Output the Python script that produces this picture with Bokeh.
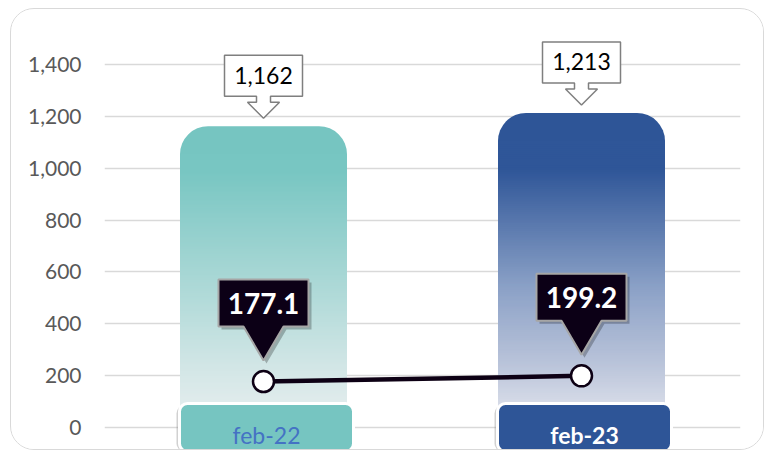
import numpy as np
from bokeh.plotting import figure
from bokeh.models import Range1d, NumeralTickFormatter, FixedTicker, ColumnDataSource
from bokeh.core.properties import value
from bokeh.embed import file_html
from bokeh.resources import INLINE

# ---------------- data ----------------
categories = ["feb-22", "feb-23"]
bar_values = [1162, 1213]
bar_labels = ["1,162", "1,213"]
line_values = [177.1, 199.2]
line_labels = ["177.1", "199.2"]
y_ticks = [0, 200, 400, 600, 800, 1000, 1200, 1400]

# ---------------- geometry / style ----------------
W, H = 754, 442          # content size (plus 1px CSS border each side)
ML, MR = 93, 25
FW = W - ML - MR
ZERO_PX = 418            # px from frame top where value 0 sits
TOP_PX = 55              # px from frame top where 1400 sits
KY = (ZERO_PX - TOP_PX) / 1400.0
Y0 = -(H - ZERO_PX) / KY
Y1 = ZERO_PX / KY
KX = FW / 2.0


def dy(px):
    return px / KY


def dx(px):
    return px / KX


def hex2rgb(h):
    h = h.lstrip("#")
    return np.array([int(h[i:i + 2], 16) for i in (0, 2, 4)], dtype=float)


def grad(stops, f):
    fs = [s[0] for s in stops]
    cols = [hex2rgb(s[1]) for s in stops]
    f = min(max(f, 0.0), 1.0)
    for k in range(len(fs) - 1):
        if fs[k] <= f <= fs[k + 1]:
            t = (f - fs[k]) / (fs[k + 1] - fs[k])
            c = cols[k] * (1 - t) + cols[k + 1] * t
            return "#%02x%02x%02x" % tuple(int(round(v)) for v in c)
    c = cols[-1]
    return "#%02x%02x%02x" % tuple(int(round(v)) for v in c)


bar_stops = [
    [(0.0, "#76c5c1"), (0.15, "#78c6c2"), (0.5, "#a8d7d5"), (0.8, "#d2e6e6"), (1.0, "#e9eff0")],
    [(0.0, "#2e5597"), (0.18, "#2f5698"), (0.55, "#8aa0c6"), (0.8, "#bac4da"), (1.0, "#e6e8ef")],
]
box_colors = ["#76c5c1", "#2e5597"]
box_text_colors = ["#4472c4", "#ffffff"]
box_text_styles = ["normal", "bold"]

xs = [i + 0.5 for i in range(len(categories))]
BW = dx(167)
RADIUS = 28

p = figure(width=W, height=H, x_range=Range1d(0, 2), y_range=Range1d(Y0, Y1),
           output_backend="svg", toolbar_location=None, x_axis_location=None,
           min_border=0, min_border_left=ML, min_border_right=MR,
           min_border_top=0, min_border_bottom=0)
p.outline_line_color = None
p.background_fill_color = "white"
p.border_fill_color = "white"
p.styles = {"border": "1px solid #d9d9d9", "border-radius": "24px", "overflow": "hidden",
            "margin-left": "10px", "margin-top": "8px"}

p.xgrid.visible = False
p.ygrid.grid_line_color = "#d9d9d9"
p.ygrid.grid_line_width = 1.5
p.yaxis.ticker = FixedTicker(ticks=y_ticks)
p.yaxis.formatter = NumeralTickFormatter(format="0,0")
p.yaxis.axis_line_color = None
p.yaxis.major_tick_line_color = None
p.yaxis.minor_tick_line_color = None
p.yaxis.major_tick_out = 0
p.yaxis.major_tick_in = 0
p.yaxis.major_label_standoff = 23
p.yaxis.major_label_text_font = "Lato"
p.yaxis.major_label_text_font_size = "21px"
p.yaxis.major_label_text_color = "#595959"

# ---------------- bars (rounded top + gradient body) ----------------
p.vbar(x=xs, top=bar_values, bottom=0, width=BW,
       fill_color=[s[0][1] for s in bar_stops], line_color=None,
       border_radius=(RADIUS, RADIUS, 0, 0))

N = 150
sl = dict(left=[], right=[], bottom=[], top=[], color=[])
for i, v in enumerate(bar_values):
    body_top = v - dy(RADIUS)
    edges = np.linspace(0, body_top, N + 1)
    for k in range(N):
        b = edges[k]
        mid = 0.5 * (edges[k] + edges[k + 1])
        f = (v - mid) / v
        sl["left"].append(xs[i] - BW / 2)
        sl["right"].append(xs[i] + BW / 2)
        sl["bottom"].append(b)
        sl["top"].append(body_top)
        sl["color"].append(grad(bar_stops[i], f))
p.quad(left="left", right="right", bottom="bottom", top="top", fill_color="color",
       line_color=None, source=ColumnDataSource(sl))

# ---------------- category boxes ----------------
box_x = [x + dx(3) for x in xs]
p.vbar(x=[x - dx(3) for x in box_x], top=dy(22), bottom=Y0 - 50, width=dx(174),
       fill_color="#7a7a7a", fill_alpha=0.35, line_color=None, border_radius=8)
p.vbar(x=box_x, top=dy(24), bottom=Y0 - 50, width=dx(174),
       fill_color=box_colors, line_color="white", line_width=3, border_radius=8)
p.text(x=box_x, y=[dy(-7)] * len(xs), text=categories,
       text_color=box_text_colors, text_font_style=box_text_styles,
       text_font=value("Lato"), text_font_size="23px",
       text_align="center", text_baseline="middle")

# ---------------- bar value callouts (white, hollow arrow) ----------------
wx, wy = [], []
for x, v in zip(xs, bar_values):
    top, bot = v + dy(71), v + dy(30)
    sy, tip = v + dy(24), v + dy(8)
    wx.append([x - dx(39), x + dx(39), x + dx(39), x + dx(7), x + dx(7), x + dx(16), x,
               x - dx(16), x - dx(7), x - dx(7), x - dx(39)])
    wy.append([top, top, bot, bot, sy, sy, tip, sy, sy, bot, bot])
p.patches(wx, wy, fill_color="white", line_color="#7f7f7f", line_width=1.5)
p.text(x=xs, y=[v + dy(51) for v in bar_values], text=bar_labels,
       text_color="black", text_font=value("Lato"), text_font_size="23px",
       text_align="center", text_baseline="middle")

# ---------------- line series ----------------
p.line(xs, line_values, line_color="#0d0014", line_width=4.5)
p.scatter(xs, line_values, size=21, fill_color="white", line_color="#0d0014", line_width=2.5)

bx, by, shx, shy = [], [], [], []
for x, v in zip(xs, line_values):
    top, bot, tip = v + dy(102), v + dy(55), v + dy(21)
    px_ = [x - dx(45), x + dx(45), x + dx(45), x + dx(20), x, x - dx(20), x - dx(45)]
    py_ = [top, top, bot, bot, tip, bot, bot]
    bx.append(px_)
    by.append(py_)
    shx.append([q + dx(3) for q in px_])
    shy.append([q - dy(3) for q in py_])
p.patches(shx, shy, fill_color="#000000", fill_alpha=0.25, line_color=None)
p.patches(bx, by, fill_color="#0c0016", line_color="#a6a6a6", line_width=2)
p.text(x=xs, y=[v + dy(78) for v in line_values], text=line_labels,
       text_color="white", text_font=value("Lato"), text_font_style="bold",
       text_font_size="28px", text_align="center", text_baseline="middle")

open("out.html", "w").write(file_html(p, INLINE))
